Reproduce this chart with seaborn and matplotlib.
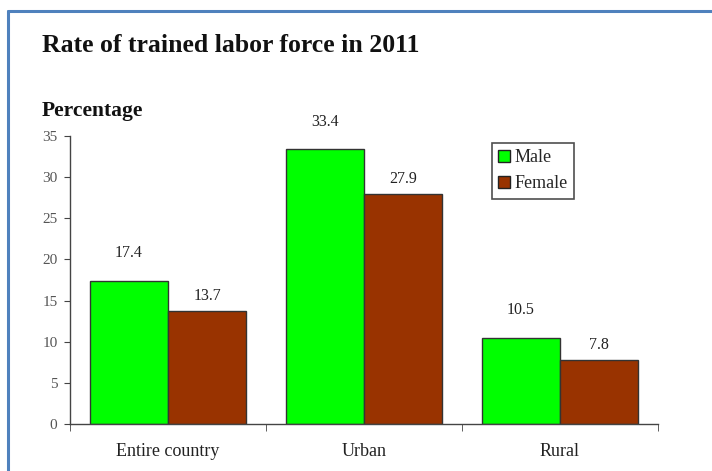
import pandas as pd
import matplotlib.pyplot as plt
from matplotlib.lines import Line2D
from matplotlib.patches import Patch
import seaborn as sns
import numpy as np

# data
areas = ["Entire country", "Urban", "Rural"]
male = [17.4, 33.4, 10.5]
female = [13.7, 27.9, 7.8]
series = ["Male", "Female"]
yticks = [0, 5, 10, 15, 20, 25, 30, 35]

colors = {"Male": "#00FF00", "Female": "#993300"}
SERIF = ["Liberation Serif", "DejaVu Serif"]

df = pd.DataFrame({
    "Area": areas * 2,
    "Sex": ["Male"] * len(areas) + ["Female"] * len(areas),
    "Value": male + female,
})

sns.set_style("white")
plt.rcParams["font.family"] = SERIF

fig = plt.figure(figsize=(7.12, 4.71), dpi=100)
ax = fig.add_axes([70 / 712, 1 - 424 / 471, 588 / 712, 288 / 471])

sns.barplot(data=df, x="Area", y="Value", hue="Sex", order=areas,
            hue_order=series, palette=colors, width=0.8, saturation=1,
            edgecolor="#333333", linewidth=1, ax=ax, legend=False)

# value labels (male ones sit higher above the bar in the original)
for cont, off in zip(ax.containers, [14, 5]):
    for bar in cont:
        h = bar.get_height()
        ax.annotate(f"{h:.1f}", (bar.get_x() + bar.get_width() / 2, h),
                    xytext=(0, off), textcoords="offset points",
                    ha="center", va="bottom", fontsize=11.5, color="#222222")

ax.set_xlim(-0.5, len(areas) - 0.5)
ax.set_ylim(0, 35)
ax.set_yticks(yticks)
ax.set_xlabel("")
ax.set_ylabel("")
ax.set_xticks(np.arange(-0.5, len(areas)), minor=True)
ax.tick_params(axis="x", which="major", length=0, pad=14, labelsize=13, labelcolor="#222222")
ax.tick_params(axis="x", which="minor", direction="out", length=5, color="#444444", bottom=True)
ax.tick_params(axis="y", direction="out", length=4, color="#444444", left=True,
               labelsize=11, labelcolor="#555555", pad=5)

sns.despine(ax=ax)
for s in ["left", "bottom"]:
    ax.spines[s].set_color("#444444")
    ax.spines[s].set_linewidth(1)

handles = [Patch(facecolor=colors[s], edgecolor="#222222", linewidth=1) for s in series]
leg = ax.legend(handles, series, loc="upper left", bbox_to_anchor=(0.7177, 0.9757),
                frameon=True, fancybox=False, edgecolor="#222222", fontsize=13,
                handlelength=0.67, handleheight=0.67, handletextpad=0.2,
                borderpad=0.35, borderaxespad=0, labelspacing=0.5)
leg.get_frame().set_linewidth(1.2)

fig.text(42 / 712, 1 - 46 / 471, "Rate of trained labor force in 2011",
         fontsize=18.5, fontweight="bold", va="center", ha="left", color="#111111")
fig.text(42 / 712, 1 - 111 / 471, "Percentage",
         fontsize=15.5, fontweight="bold", va="center", ha="left", color="#111111")

# blue frame lines (top and left)
fig.add_artist(Line2D([8 / 712, 8 / 712], [0, 1 - 11 / 471], color="#4F81BD", lw=2.2))
fig.add_artist(Line2D([8 / 712, 1], [1 - 11 / 471, 1 - 11 / 471], color="#4F81BD", lw=2.2))

plt.savefig("out.png", dpi=100)
